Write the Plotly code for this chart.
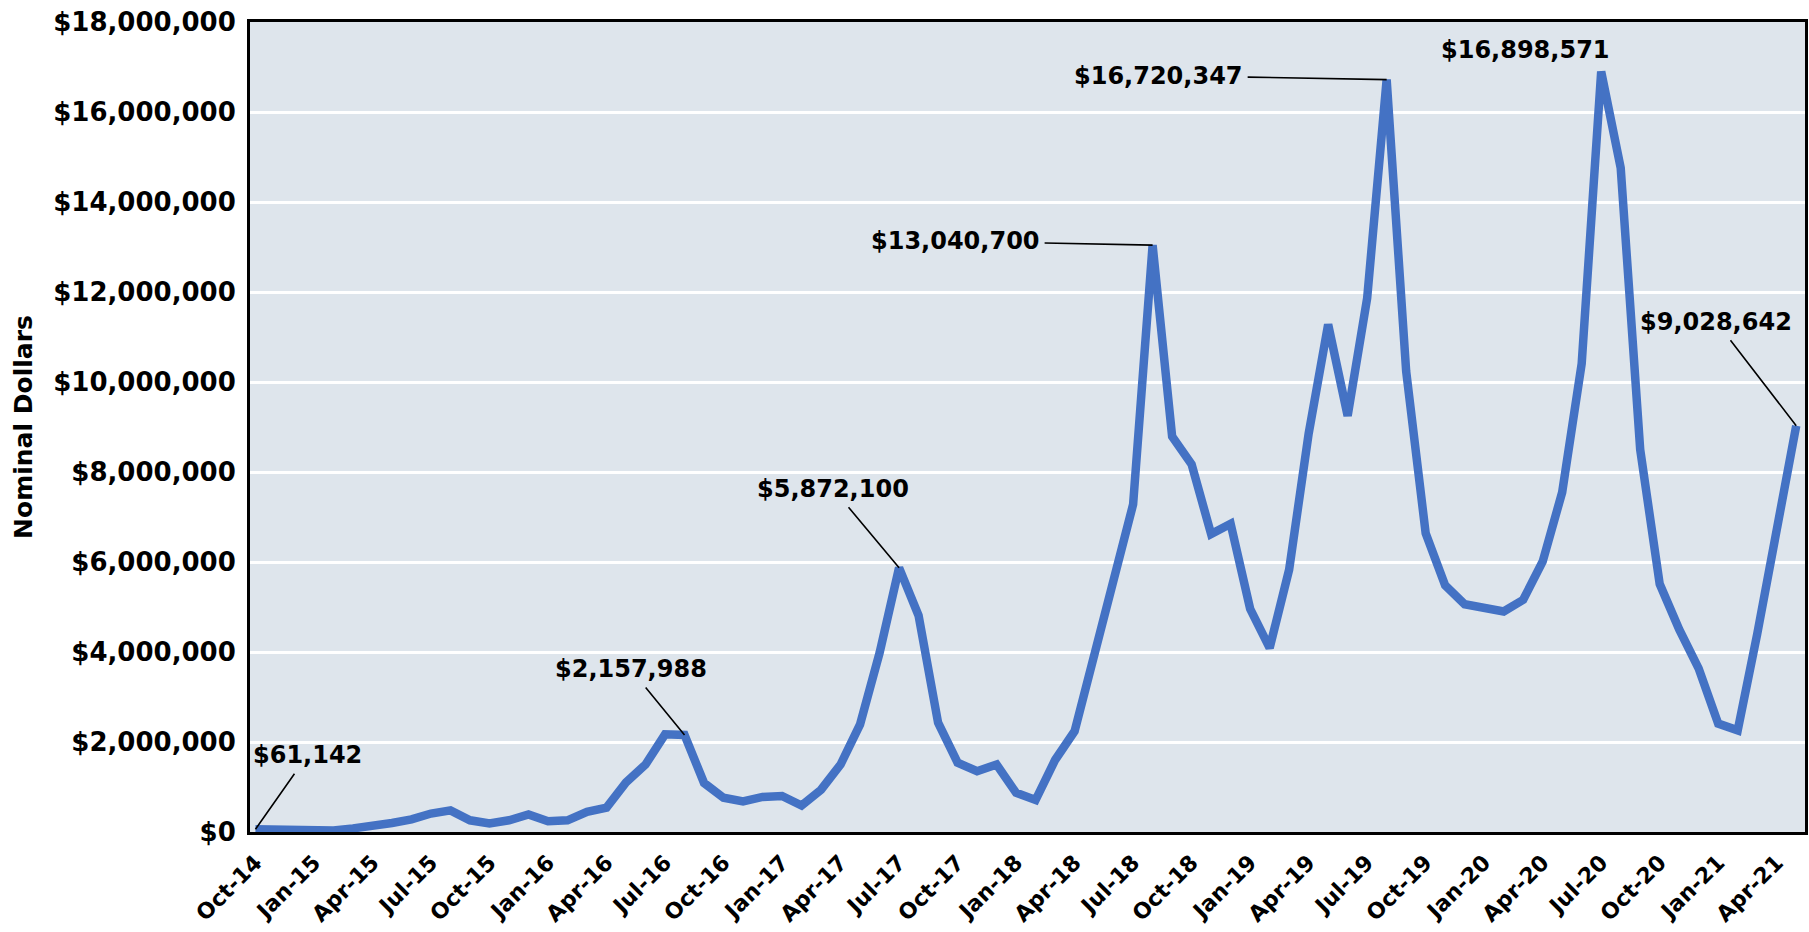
import plotly.graph_objects as go

# Monthly series, Oct-2014 through May-2021
months = [
    "Oct-14", "Nov-14", "Dec-14",
    "Jan-15", "Feb-15", "Mar-15", "Apr-15", "May-15", "Jun-15",
    "Jul-15", "Aug-15", "Sep-15", "Oct-15", "Nov-15", "Dec-15",
    "Jan-16", "Feb-16", "Mar-16", "Apr-16", "May-16", "Jun-16",
    "Jul-16", "Aug-16", "Sep-16", "Oct-16", "Nov-16", "Dec-16",
    "Jan-17", "Feb-17", "Mar-17", "Apr-17", "May-17", "Jun-17",
    "Jul-17", "Aug-17", "Sep-17", "Oct-17", "Nov-17", "Dec-17",
    "Jan-18", "Feb-18", "Mar-18", "Apr-18", "May-18", "Jun-18",
    "Jul-18", "Aug-18", "Sep-18", "Oct-18", "Nov-18", "Dec-18",
    "Jan-19", "Feb-19", "Mar-19", "Apr-19", "May-19", "Jun-19",
    "Jul-19", "Aug-19", "Sep-19", "Oct-19", "Nov-19", "Dec-19",
    "Jan-20", "Feb-20", "Mar-20", "Apr-20", "May-20", "Jun-20",
    "Jul-20", "Aug-20", "Sep-20", "Oct-20", "Nov-20", "Dec-20",
    "Jan-21", "Feb-21", "Mar-21", "Apr-21", "May-21",
]

dollars = [
    61142, 50000, 40000,
    30000, 35000, 80000, 130000, 200000, 280000,
    410000, 480000, 260000, 190000, 260000, 390000,
    240000, 260000, 450000, 540000, 1100000, 1500000,
    2170000, 2157988, 1090000, 760000, 680000, 780000,
    800000, 590000, 940000, 1500000, 2390000, 3980000,
    5872100, 4810000, 2430000, 1540000, 1350000, 1500000,
    870000, 710000, 1600000, 2240000, 3920000, 5600000,
    7280000, 13040700, 8790000, 8170000, 6620000, 6850000,
    4960000, 4090000, 5830000, 8850000, 11280000, 9250000,
    11860000, 16720347, 10240000, 6640000, 5480000, 5060000,
    4990000, 4900000, 5160000, 6010000, 7550000, 10410000,
    16898571, 14760000, 8500000, 5510000, 4500000, 3630000,
    2410000, 2260000, 4400000, 6600000, 9028642,
]

# Quarterly tick labels
tick_labels = months[::3]

# Called-out values: (month, text offset x, text offset y, draw leader)
callouts = [
    ("Oct-14", 52, -74, True),
    ("Aug-16", -54, -66, True),
    ("Jul-17", -66, -79, True),
    ("Aug-18", -197, -4, True),
    ("Aug-19", -228, -4, True),
    ("Jul-20", -76, -22, False),
    ("May-21", -80, -104, True),
]

FONT = "DejaVu Sans"
idx = list(range(len(months)))

fig = go.Figure()
fig.add_trace(go.Scatter(
    x=idx, y=dollars, mode="lines",
    line=dict(color="#4472C4", width=8.5),
    hoverinfo="skip", showlegend=False,
))

label_font = dict(family=FONT, size=24, color="black", weight="bold")
for name, ox, oy, leader in callouts:
    i = months.index(name)
    v = dollars[i]
    label = "${:,}".format(v)
    if leader:
        fig.add_annotation(
            x=i, y=v, xref="x", yref="y", text=label,
            showarrow=True, arrowhead=0, arrowwidth=1.6, arrowcolor="black",
            axref="pixel", ayref="pixel", ax=ox, ay=oy, standoff=0,
            borderpad=4, font=label_font,
        )
    else:
        fig.add_annotation(
            x=i, y=v, xref="x", yref="y", text=label, showarrow=False,
            xshift=ox, yshift=-oy, font=label_font,
        )

fig.update_layout(
    width=1809, height=932,
    margin=dict(l=250, r=4, t=22, b=100),
    paper_bgcolor="white", plot_bgcolor="#DEE5EC",
    font=dict(family=FONT, color="black"),
    showlegend=False,
)
fig.update_xaxes(
    range=[-0.28, len(months) - 1 + 0.45], automargin=False,
    tickmode="array", tickvals=idx[::3], ticktext=tick_labels,
    tickangle=-45, ticks="", ticklabelstandoff=6,
    tickfont=dict(family=FONT, size=22, color="black", weight="bold"),
    showgrid=False, zeroline=False,
    showline=True, linecolor="black", linewidth=3, mirror=True,
)
fig.update_yaxes(
    range=[0, 18000000], dtick=2000000, tickformat="$,.0f", automargin=False,
    tickfont=dict(family=FONT, size=26, color="black", weight="bold"),
    ticks="", ticklabelstandoff=6,
    showgrid=True, gridcolor="white", gridwidth=2.5, zeroline=False,
    showline=True, linecolor="black", linewidth=3, mirror=True,
    title=dict(text="Nominal Dollars", standoff=14,
               font=dict(family=FONT, size=25, color="black", weight="bold")),
)

fig.write_html("out.html")
